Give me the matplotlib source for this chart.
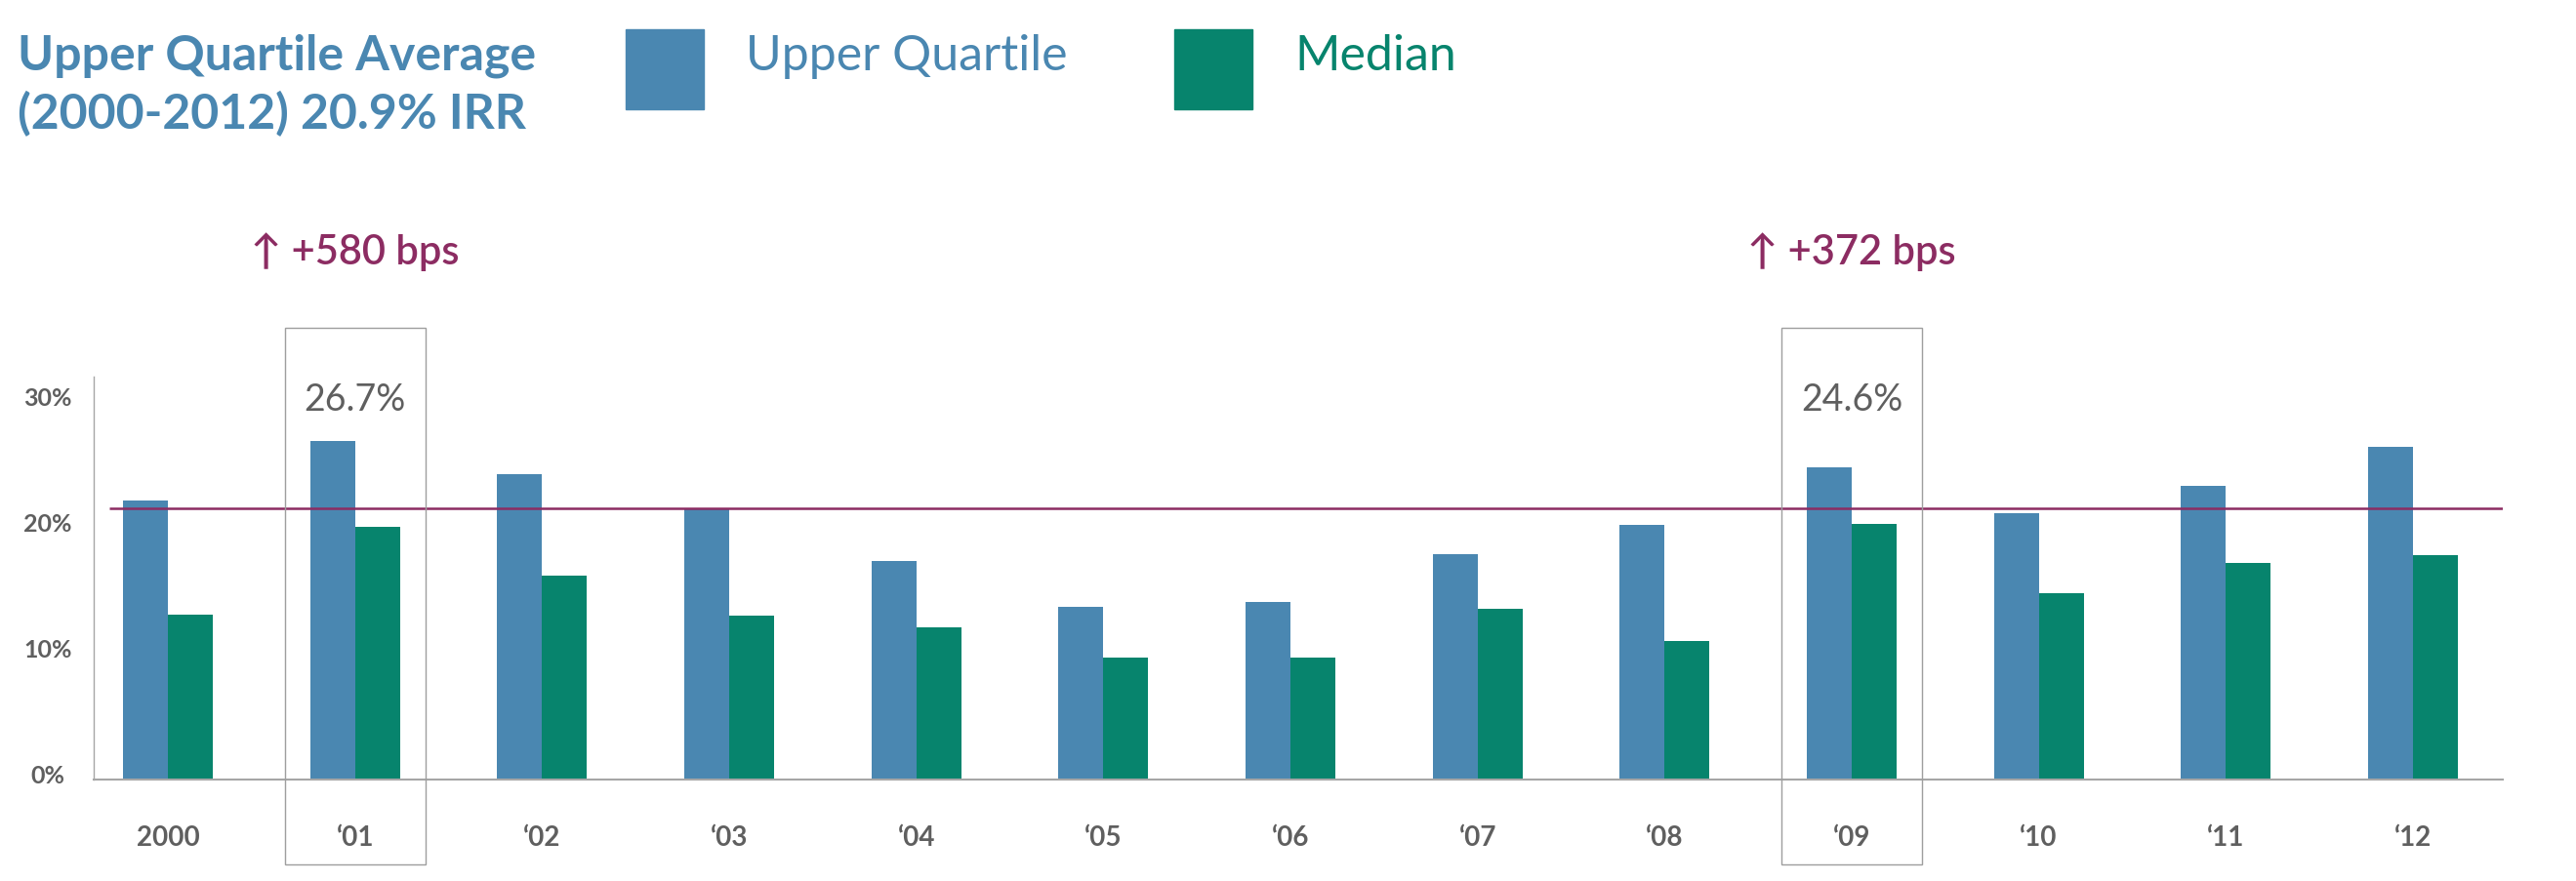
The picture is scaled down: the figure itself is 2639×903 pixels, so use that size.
import matplotlib
matplotlib.use("Agg")
import matplotlib.pyplot as plt
import matplotlib.transforms as mtransforms
from matplotlib.patches import Rectangle
import numpy as np

# values (IRR, %)
years = ["2000", "\u201801", "\u201802", "\u201803", "\u201804", "\u201805", "\u201806",
         "\u201807", "\u201808", "\u201809", "\u201810", "\u201811", "\u201812"]
upper_quartile = [22.1, 26.9, 24.2, 21.5, 17.3, 13.7, 14.1, 17.9, 20.2, 24.8, 21.1, 23.3, 26.4]
median = [13.1, 20.05, 16.2, 13.0, 12.1, 9.7, 9.7, 13.5, 11.0, 20.3, 14.8, 17.2, 17.8]
avg_line = 21.5
highlight_idx = [1, 9]
highlight_val = ["26.7%", "24.6%"]
highlight_bps = ["\u2191 +580 bps", "\u2191 +372 bps"]
yticks = [0, 10, 20, 30]
ytick_labels = ["0%", "10%", "20%", "30%"]

BLUE = "#4a87b1"
GREEN = "#07846d"
MAGENTA = "#8c2c62"
GREY_TXT = "#5f5f5f"
GREY_LN = "#a6a6a6"

plt.rcParams["font.family"] = ["Lato", "DejaVu Sans"]

fig = plt.figure(figsize=(26.39, 9.04), dpi=100)
ax = fig.add_axes([0.03626, 0.11538, 0.93532, 0.45686])

x = np.arange(len(years))
w = 0.24
ax.bar(x - w / 2, upper_quartile, w, color=BLUE, zorder=2)
ax.bar(x + w / 2, median, w, color=GREEN, zorder=2)
ax.hlines(avg_line, -0.312, 12.48, color=MAGENTA, lw=1.8, zorder=3)

ax.set_xlim(-0.3986, 12.48)
ax.set_ylim(0, 32)

for s in ["top", "right"]:
    ax.spines[s].set_visible(False)
ax.spines["left"].set_color(GREY_LN)
ax.spines["left"].set_linewidth(1.0)
ax.spines["bottom"].set_color(GREY_LN)
ax.spines["bottom"].set_linewidth(1.5)

ax.set_xticks(x)
ax.set_xticklabels(years, fontsize=20, fontweight="bold", color=GREY_TXT)
ax.tick_params(axis="x", length=0, pad=33)
ax.set_yticks(yticks)
ax.set_yticklabels(ytick_labels, fontsize=18, fontweight="bold", color=GREY_TXT, ha="center")
ax.tick_params(axis="y", length=0, pad=33.8)
up = mtransforms.ScaledTranslation(0, 6 / 100, fig.dpi_scale_trans)
for lab in ax.get_yticklabels():
    lab.set_transform(lab.get_transform() + up)

# highlight boxes and notes
blend = mtransforms.blended_transform_factory(ax.transData, ax.transAxes)
for i, val, bps in zip(highlight_idx, highlight_val, highlight_bps):
    ax.add_patch(Rectangle((i - 0.3757, -0.2114), 2 * 0.3757, 1.3325, transform=blend,
                           fill=False, edgecolor="#9e9e9e", lw=1.0, clip_on=False, zorder=4))
    ax.text(i, 0.9436, val, transform=blend, ha="center", va="center",
            fontsize=27, fontweight="normal", color=GREY_TXT)
    ax.text(i, 1.3116, bps, transform=blend, ha="center", va="center",
            fontsize=30, fontweight="semibold", color=MAGENTA)

# title
fig.text(17.8 / 2639, 1 - 71.7 / 904, "Upper Quartile Average", fontsize=36,
         fontweight="bold", color=BLUE, va="baseline")
fig.text(17.8 / 2639, 1 - 131.7 / 904, "(2000-2012) 20.9% IRR", fontsize=36,
         fontweight="bold", color=BLUE, va="baseline")

# legend
for xr, xt, col, lbl in [(641, 764, BLUE, "Upper Quartile"), (1202.7, 1326, GREEN, "Median")]:
    fig.add_artist(Rectangle((xr / 2639, 1 - 113 / 904), 80 / 2639, 82 / 904,
                             transform=fig.transFigure, color=col))
    fig.text(xt / 2639, 1 - 71.7 / 904, lbl, fontsize=36, fontweight="normal",
             color=col, va="baseline")

fig.savefig("out.png", dpi=100)
